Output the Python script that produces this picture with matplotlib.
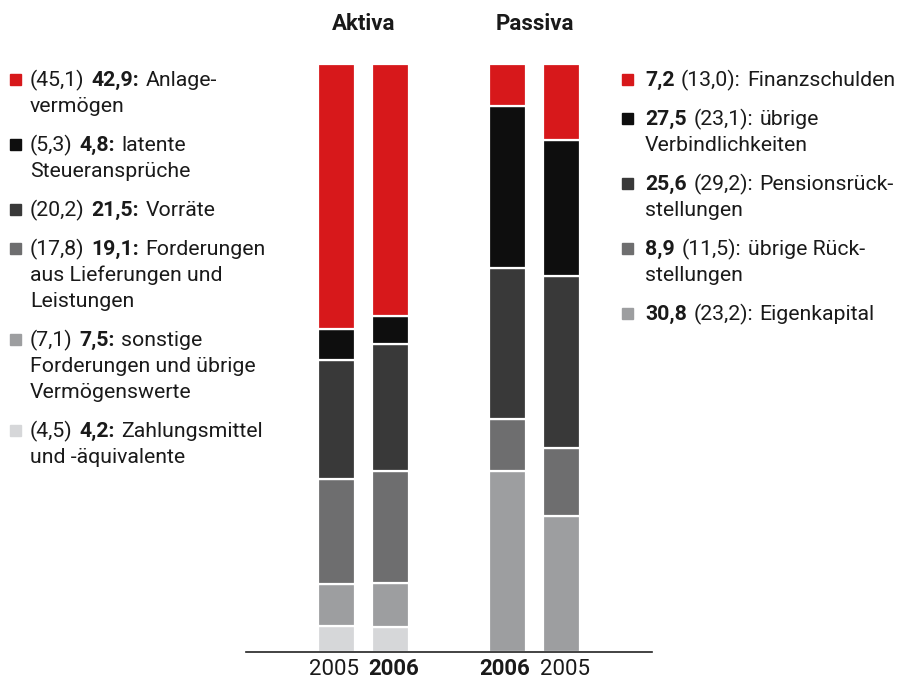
import matplotlib.pyplot as plt
from matplotlib.patches import Rectangle

# Bilanzstruktur in % (Aktiva / Passiva), Vorjahr in Klammern
aktiva_names = [["Anlage-", "vermögen"],
                ["latente", "Steueransprüche"],
                ["Vorräte"],
                ["Forderungen", "aus Lieferungen und", "Leistungen"],
                ["sonstige", "Forderungen und übrige", "Vermögenswerte"],
                ["Zahlungsmittel", "und -äquivalente"]]
aktiva_2005 = [45.1, 5.3, 20.2, 17.8, 7.1, 4.5]
aktiva_2006 = [42.9, 4.8, 21.5, 19.1, 7.5, 4.2]

passiva_names = [["Finanzschulden"],
                 ["übrige", "Verbindlichkeiten"],
                 ["Pensionsrück-", "stellungen"],
                 ["übrige Rück-", "stellungen"],
                 ["Eigenkapital"]]
passiva_2005 = [13.0, 23.1, 29.2, 11.5, 23.2]
passiva_2006 = [7.2, 27.5, 25.6, 8.9, 30.8]

aktiva_colors = ["#d7181b", "#0e0e0e", "#393939", "#6e6e6f", "#9d9ea0", "#d6d7d9"]
passiva_colors = ["#d7181b", "#0e0e0e", "#393939", "#6e6e6f", "#9d9ea0"]

W, H = 914, 681
FONT = "Roboto"
FS = 15.3
TXT = "#1a1a1a"

fig = plt.figure(figsize=(W / 100, H / 100), dpi=100)
ax = fig.add_axes([246 / W, (H - 652) / H, 406 / W, 588 / H])

# bar positions in units of the bar pitch (54 px)
pos = {"a05": 0.0, "a06": 1.0, "p06": 3.167, "p05": 4.167}
width = 0.685


def stack(x, values, colors):
    bottom = 0
    for v, c in zip(reversed(values), reversed(colors)):
        ax.bar(x, v, width=width, bottom=bottom, color=c,
               edgecolor="white", linewidth=1.6)
        bottom += v


stack(pos["a05"], aktiva_2005, aktiva_colors)
stack(pos["a06"], aktiva_2006, aktiva_colors)
stack(pos["p06"], passiva_2006, passiva_colors)
stack(pos["p05"], passiva_2005, passiva_colors)

ax.set_xlim(-90.5 / 54, (406 - 90.5) / 54)
ax.set_ylim(0, 100)
for s in ["top", "left", "right"]:
    ax.spines[s].set_visible(False)
ax.spines["bottom"].set_color("#222222")
ax.spines["bottom"].set_linewidth(1.2)
ax.set_xticks([])
ax.set_yticks([])

# group titles and year labels
mid_a = (pos["a05"] + pos["a06"]) / 2
mid_p = (pos["p06"] + pos["p05"]) / 2
gap = 5 / 54
for mid, title in [(mid_a, "Aktiva"), (mid_p, "Passiva")]:
    x_fig = ax.transData.transform((mid, 0))[0]
    fig.text(x_fig / W, 1 - 24 / H, title, ha="center", va="center",
             fontsize=16, fontweight="bold", family=FONT, color=TXT)

yl = -(675 - 652) / 588 * 100
YFS = 16
ax.text(mid_a - gap, yl, "2005", ha="right", va="baseline", fontsize=YFS,
        family=FONT, color=TXT, clip_on=False)
ax.text(mid_a + gap, yl, "2006", ha="left", va="baseline", fontsize=YFS,
        family=FONT, color=TXT, fontweight="bold", clip_on=False)
ax.text(mid_p - gap, yl, "2006", ha="right", va="baseline", fontsize=YFS,
        family=FONT, color=TXT, fontweight="bold", clip_on=False)
ax.text(mid_p + gap, yl, "2005", ha="left", va="baseline", fontsize=YFS,
        family=FONT, color=TXT, clip_on=False)

renderer = fig.canvas.get_renderer()


def text_w(s, bold=False):
    t = fig.text(0, 0, s, fontsize=FS, family=FONT,
                 fontweight="bold" if bold else "normal")
    w = t.get_window_extent(renderer).width
    t.remove()
    return w


SPACE = (text_w("a a") - text_w("aa")) * 1.25


def rich(x, base, parts):
    """parts: list of (string, bold), joined by a space; base = baseline (px from top)"""
    for s, bold in parts:
        t = fig.text(x / W, 1 - base / H, s, fontsize=FS, family=FONT,
                     fontweight="bold" if bold else "normal",
                     va="baseline", ha="left", color=TXT)
        x += t.get_window_extent(renderer).width + SPACE


def fmt(v):
    return f"{v:.1f}".replace(".", ",")


def legend(x_sq, x_txt, base0, items):
    base = base0
    for color, lines in items:
        fig.patches.append(Rectangle((x_sq / W, 1 - (base - 1) / H), 11 / W, 11 / H,
                                     transform=fig.transFigure, color=color))
        for line in lines:
            rich(x_txt, base, line)
            base += 26
        base += 13


left_items = []
for name, v05, v06, c in zip(aktiva_names, aktiva_2005, aktiva_2006, aktiva_colors):
    first = [("(" + fmt(v05) + ")", False), (fmt(v06) + ":", True), (name[0], False)]
    left_items.append((c, [first] + [[(n, False)] for n in name[1:]]))

right_items = []
for name, v05, v06, c in zip(passiva_names, passiva_2005, passiva_2006, passiva_colors):
    first = [(fmt(v06), True), ("(" + fmt(v05) + "):", False), (name[0], False)]
    right_items.append((c, [first] + [[(n, False)] for n in name[1:]]))

legend(10, 30, 86, left_items)
legend(622, 645, 86, right_items)

fig.savefig("out.png", dpi=100)
